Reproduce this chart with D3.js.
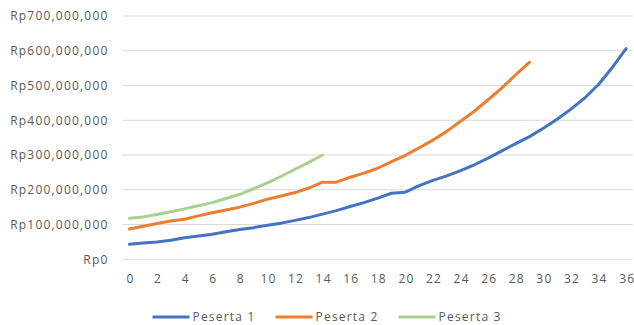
<!DOCTYPE html>
<html>
<head>
<meta charset="utf-8">
<script src="https://cdn.jsdelivr.net/npm/d3@7"></script>
<style>
  html, body { margin: 0; padding: 0; background: #fff; }
  svg { display: block; }
  text { font-family: "Open Sans", sans-serif; fill: #595959; }
</style>
</head>
<body>
<svg id="chart" width="634" height="325"></svg>
<script>
// Years (x categories)
const years = d3.range(0, 37);

// Accumulated value per participant, in millions of Rupiah
const peserta1 = [43, 47, 50, 55, 62, 67, 72, 79, 86, 91, 98, 104, 112, 120, 130, 140, 152, 163, 176, 190,
                  193, 212, 227, 240, 255, 272, 291, 312, 333, 353, 377, 403, 432, 464, 503, 552, 606];
const peserta2 = [87, 95, 103, 110, 115, 125, 134, 142, 150, 161, 173, 182, 192, 205, 222, 222, 236, 248, 262, 281,
                  299, 321, 343, 368, 397, 426, 459, 493, 531, 567];
const peserta3 = [118, 122, 129, 137, 145, 154, 163, 175, 187, 203, 220, 239, 259, 279, 300];

const seriesNames = ["Peserta 1", "Peserta 2", "Peserta 3"];
const seriesColors = ["#4472C4", "#ED7D31", "#A9D18E"];
const yTicks = [0, 100, 200, 300, 400, 500, 600, 700];
const xTicks = d3.range(0, 37, 2);

const series = [peserta1, peserta2, peserta3].map((vals, i) => ({
  name: seriesNames[i],
  color: seriesColors[i],
  points: vals.map((v, j) => ({ year: years[j], value: v * 1e6 }))
}));

const svg = d3.select("#chart");
const plot = { left: 122.5, right: 633, top: 16, bottom: 259.3 };

const x = d3.scaleLinear().domain([-0.5, 36.5]).range([plot.left, plot.right]);
const y = d3.scaleLinear().domain([0, 700e6]).range([plot.bottom, plot.top]);

const fmt = v => "Rp" + d3.format(",")(v);

// Horizontal gridlines
svg.append("g")
  .selectAll("line")
  .data(yTicks)
  .join("line")
  .attr("x1", plot.left).attr("x2", plot.right)
  .attr("y1", d => y(d * 1e6)).attr("y2", d => y(d * 1e6))
  .attr("stroke", "#D9D9D9").attr("stroke-width", 1);

// Y axis labels
const yAxis = d3.axisLeft(y)
  .tickValues(yTicks.map(d => d * 1e6))
  .tickFormat(fmt)
  .tickSize(0)
  .tickPadding(0);
const gy = svg.append("g").attr("transform", "translate(108.5,0)").call(yAxis);
gy.select(".domain").remove();
gy.selectAll("text")
  .attr("font-size", 12)
  .attr("letter-spacing", 1.2)
  .attr("fill", "#595959")
  .attr("font-family", "'Open Sans', sans-serif");

// X axis labels
const xAxis = d3.axisBottom(x)
  .tickValues(xTicks)
  .tickFormat(d3.format("d"))
  .tickSize(0)
  .tickPadding(0);
const gx = svg.append("g").attr("transform", "translate(0.6,274)").call(xAxis);
gx.select(".domain").remove();
gx.selectAll("text")
  .attr("font-size", 12)
  .attr("letter-spacing", 1.2)
  .attr("fill", "#595959")
  .attr("font-family", "'Open Sans', sans-serif");

// Series lines
const line = d3.line()
  .x(d => x(d.year))
  .y(d => y(d.value));

svg.append("g")
  .selectAll("path")
  .data(series)
  .join("path")
  .attr("d", d => line(d.points))
  .attr("fill", "none")
  .attr("stroke", d => d.color)
  .attr("stroke-width", 3)
  .attr("stroke-linejoin", "round")
  .attr("stroke-linecap", "round");

// Legend
const legend = svg.append("g").attr("transform", "translate(0,317)");
let lx = 152.5;
series.forEach(s => {
  const item = legend.append("g").attr("transform", `translate(${lx},0)`);
  item.append("line")
    .attr("x1", 0).attr("x2", 37)
    .attr("y1", 0).attr("y2", 0)
    .attr("stroke", s.color).attr("stroke-width", 3);
  const t = item.append("text")
    .attr("x", 40).attr("y", 0)
    .attr("dy", "0.35em")
    .attr("font-size", 12)
    .attr("letter-spacing", 1.2)
    .text(s.name);
  const w = t.node().getComputedTextLength();
  lx += 40 + w + 20;
});
</script>
</body>
</html>
